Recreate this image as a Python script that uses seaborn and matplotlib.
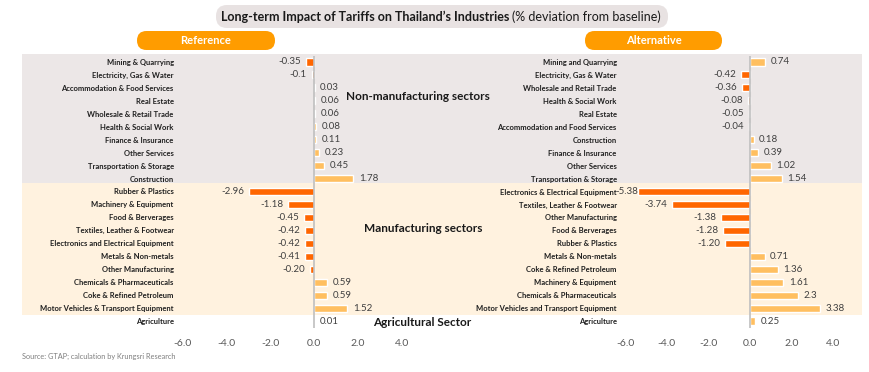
import pandas as pd
import matplotlib.pyplot as plt
import seaborn as sns
from matplotlib.patches import FancyBboxPatch, Rectangle

# data
ref_sectors = ['Mining & Quarrying', 'Electricity, Gas & Water', 'Accommodation & Food Services',
               'Real Estate', 'Wholesale & Retail Trade', 'Health & Social Work',
               'Finance & Insurance', 'Other Services', 'Transportation & Storage', 'Construction',
               'Rubber & Plastics', 'Machinery & Equipment', 'Food & Berverages',
               'Textiles, Leather & Footwear', 'Electronics and Electrical Equipment',
               'Metals & Non-metals', 'Other Manufacturing', 'Chemicals & Pharmaceuticals',
               'Coke & Refined Petroleum', 'Motor Vehicles & Transport Equipment', 'Agriculture']
ref_values = [-0.35, -0.1, 0.03, 0.06, 0.06, 0.08, 0.11, 0.23, 0.45, 1.78,
              -2.96, -1.18, -0.45, -0.42, -0.42, -0.41, -0.20, 0.59, 0.59, 1.52, 0.01]
ref_labels = ['-0.35', '-0.1', '0.03', '0.06', '0.06', '0.08', '0.11', '0.23', '0.45', '1.78',
              '-2.96', '-1.18', '-0.45', '-0.42', '-0.42', '-0.41', '-0.20', '0.59', '0.59', '1.52', '0.01']

alt_sectors = ['Mining and Quarrying', 'Electricity, Gas & Water', 'Wholesale and Retail Trade',
               'Health & Social Work', 'Real Estate', 'Accommodation and Food Services',
               'Construction', 'Finance & Insurance', 'Other Services', 'Transportation & Storage',
               'Electronics & Electrical Equipment', 'Textiles, Leather & Footwear',
               'Other Manufacturing', 'Food & Berverages', 'Rubber & Plastics',
               'Metals & Non-metals', 'Coke & Refined Petroleum', 'Machinery & Equipment',
               'Chemicals & Pharmaceuticals', 'Motor Vehicles and Transport Equipment', 'Agriculture']
alt_values = [0.74, -0.42, -0.36, -0.08, -0.05, -0.04, 0.18, 0.39, 1.02, 1.54,
              -5.38, -3.74, -1.38, -1.28, -1.20, 0.71, 1.36, 1.61, 2.3, 3.38, 0.25]
alt_labels = ['0.74', '-0.42', '-0.36', '-0.08', '-0.05', '-0.04', '0.18', '0.39', '1.02', '1.54',
              '-5.38', '-3.74', '-1.38', '-1.28', '-1.20', '0.71', '1.36', '1.61', '2.3', '3.38', '0.25']

x_ticks = [-6, -4, -2, 0, 2, 4]
group_names = ['Non-manufacturing sectors', 'Manufacturing sectors', 'Agricultural Sector']

NEG = '#FF6600'
POS = '#FFBF60'
GREY_BAND = '#ECE7E7'
CREAM_BAND = '#FFF2DF'
HEADER = '#FF9C00'

sns.set_style('white')
plt.rcParams['font.family'] = ['Lato', 'DejaVu Sans']

W, H = 870, 372
fig = plt.figure(figsize=(8.7, 3.72), dpi=100)

# background layer in pixel coordinates (y downwards)
bg = fig.add_axes([0, 0, 1, 1])
bg.set_xlim(0, W)
bg.set_ylim(H, 0)
bg.axis('off')

bg.add_patch(Rectangle((22, 54), 840, 129, facecolor=GREY_BAND, edgecolor='none'))
bg.add_patch(Rectangle((22, 183), 840, 132, facecolor=CREAM_BAND, edgecolor='none'))

# title pill
bg.add_patch(FancyBboxPatch((216, 5), 452, 23, boxstyle='round,pad=0,rounding_size=11',
                            facecolor='#E8E2E2', edgecolor='none'))
bg.text(509, 17, "Long-term Impact of Tariffs on Thailand\u2019s Industries", ha='right',
        va='center', fontsize=9, fontweight='bold', color='#1a1a1a')
bg.text(512, 17, '(% deviation from baseline)', ha='left', va='center',
        fontsize=9, color='#1a1a1a')

# group labels
bg.text(418, 96, group_names[0], ha='center', va='center', fontsize=8.5,
        fontweight='bold', color='#1a1a1a')
bg.text(423, 229, group_names[1], ha='center', va='center', fontsize=8.5,
        fontweight='bold', color='#1a1a1a')
bg.text(422, 322, group_names[2], ha='center', va='center', fontsize=8.5,
        fontweight='bold', color='#1a1a1a')

bg.text(22, 356, 'Source: GTAP; calculation by Krungsri Research', ha='left',
        va='center', fontsize=5.3, color='#7f7f7f')

panels = [
    (182, 220, 'Reference', 137, 138, ref_sectors, ref_values, ref_labels),
    (625, 208, 'Alternative', 585, 137, alt_sectors, alt_values, alt_labels),
]

for left, width, name, hx, hw, sectors, values, labels in panels:
    # header pill
    bg.add_patch(FancyBboxPatch((hx, 31), hw, 19, boxstyle='round,pad=0,rounding_size=9.5',
                                facecolor=HEADER, edgecolor='none'))
    bg.text(hx + hw / 2, 40.5, name, ha='center', va='center',
            fontsize=8, fontweight='bold', color='white')

    ax = fig.add_axes([left / W, (H - 327.5) / H, width / W, 272 / H])
    ax.patch.set_alpha(0)
    df = pd.DataFrame({'sector': sectors, 'value': values})
    df['sign'] = ['neg' if v < 0 else 'pos' for v in values]
    sns.barplot(data=df, y='sector', x='value', hue='sign', orient='h',
                palette={'neg': NEG, 'pos': POS}, saturation=1, width=0.55,
                legend=False, dodge=False, ax=ax, zorder=2)
    ax.set_xlim(-6, 4)
    ax.set_xticks(x_ticks)
    ax.set_xticklabels([f'{t:.1f}' for t in x_ticks], fontsize=7.5, color='#595959')
    ax.set_xlabel('')
    ax.set_ylabel('')
    ax.tick_params(axis='y', length=0, pad=6, labelsize=5.5)
    ax.tick_params(axis='x', length=0, pad=8)
    for lab in ax.get_yticklabels():
        lab.set_fontweight('bold')
        lab.set_color('#1f1f1f')
    for s in ax.spines.values():
        s.set_visible(False)
    ax.axvline(0, color='#BFBFBF', lw=1.2, zorder=3)

    for i, (v, txt) in enumerate(zip(values, labels)):
        if v >= 0:
            off = 4
        elif v < -5:
            off = 0  # no room left of the longest bar, label hugs it
        else:
            off = -3.5
        ax.annotate(txt, (v, i), xytext=(off, 0), textcoords='offset points',
                    ha='left' if v >= 0 else 'right', va='center',
                    fontsize=7, color='#404040', zorder=4)

fig.savefig('out.png', dpi=100)
